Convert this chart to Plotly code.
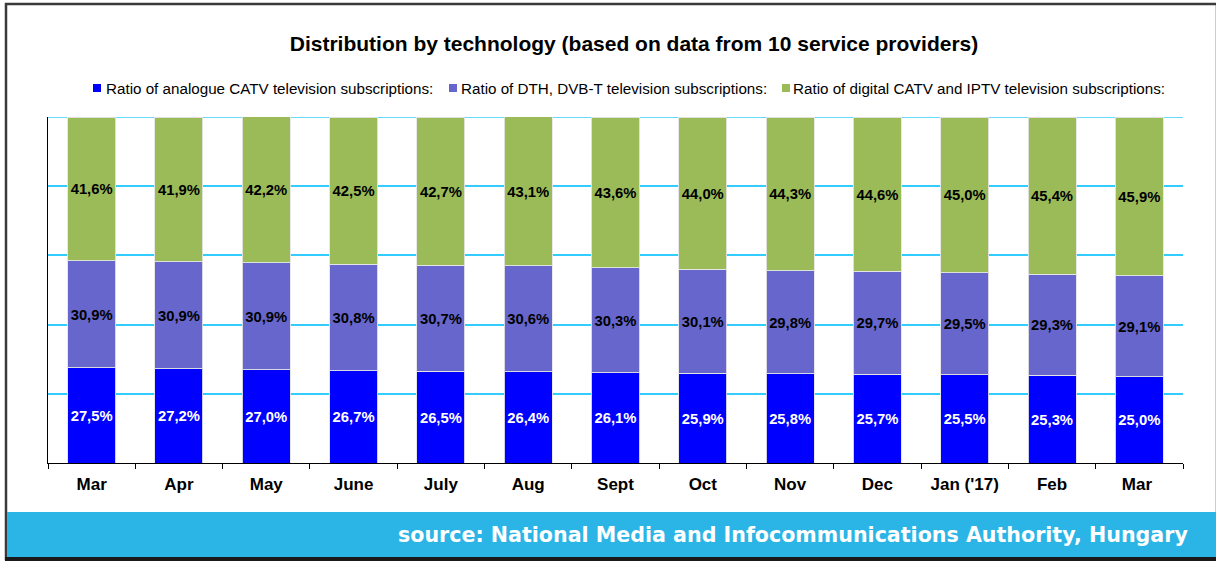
import plotly.graph_objects as go

months = ["Mar", "Apr", "May", "June", "July", "Aug", "Sept", "Oct", "Nov", "Dec", "Jan ('17)", "Feb", "Mar "]
analogue = [27.5, 27.2, 27.0, 26.7, 26.5, 26.4, 26.1, 25.9, 25.8, 25.7, 25.5, 25.3, 25.0]
dth = [30.9, 30.9, 30.9, 30.8, 30.7, 30.6, 30.3, 30.1, 29.8, 29.7, 29.5, 29.3, 29.1]
digital = [41.6, 41.9, 42.2, 42.5, 42.7, 43.1, 43.6, 44.0, 44.3, 44.6, 45.0, 45.4, 45.9]

names = ["Ratio of analogue CATV television subscriptions:",
         "Ratio of DTH, DVB-T television subscriptions:",
         "Ratio of digital CATV and IPTV television subscriptions:"]
colors = ["#0000FF", "#6666CC", "#9BBB59"]
text_colors = ["white", "black", "black"]

W, H = 1216, 561
L, R, T, B = 48, 1183, 117, 463

def px(x):
    return (x - L) / (R - L)

def py(y):
    return (B - y) / (B - T)

def fmt(v):
    return f"{v:.1f}%".replace(".", ",")

fig = go.Figure()
for vals, name, col, tc in zip([analogue, dth, digital], names, colors, text_colors):
    fig.add_trace(go.Bar(
        x=months, y=vals, name=name,
        marker=dict(color=col, line=dict(color="rgba(230,230,230,0.9)", width=1)),
        text=[fmt(v) for v in vals], textposition="inside", insidetextanchor="middle",
        textangle=0,
        textfont=dict(family="Liberation Sans, Arial", size=15, color=tc, weight="bold"),
        hoverinfo="skip", showlegend=False,
    ))

shapes = [
    # outer frame
    dict(type="rect", xref="paper", yref="paper", x0=px(6), x1=px(1217), y0=py(4), y1=py(559),
         line=dict(color="#3a3a3a", width=2.5), fillcolor="rgba(0,0,0,0)", layer="below"),
    # source banner
    dict(type="rect", xref="paper", yref="paper", x0=px(7), x1=px(1216), y0=py(512), y1=py(557),
         line=dict(width=0), fillcolor="#2BB5E6", layer="below"),
    # bottom dark edge
    dict(type="rect", xref="paper", yref="paper", x0=px(5), x1=px(1216), y0=py(557), y1=py(561),
         line=dict(width=0), fillcolor="#1a1a1a", layer="below"),
    # top gridline at 100%
    dict(type="line", xref="paper", yref="y", x0=0, x1=1, y0=100, y1=100,
         line=dict(color="#33CCFF", width=1.5), layer="below"),
]

annotations = []
# manual legend (compact spacing as in the reference)
legend_sq_x = [93, 449, 782]
legend_text_x = [104, 459, 791]
legend_y = 88
for name, col, sx, tx in zip(names, colors, legend_sq_x, legend_text_x):
    shapes.append(dict(type="rect", xref="paper", yref="paper",
                       x0=px(sx), x1=px(sx + 8), y0=py(legend_y - 4), y1=py(legend_y + 4),
                       line=dict(width=0), fillcolor=col))
    annotations.append(dict(text=name, xref="paper", yref="paper", x=px(tx), y=py(legend_y),
                            xanchor="left", yanchor="middle", showarrow=False,
                            font=dict(family="Liberation Sans, Arial", size=15.2, color="black")))

annotations.append(dict(text="source: National Media and Infocommunications Authority, Hungary",
                        xref="paper", yref="paper", x=px(1190), y=py(535),
                        xanchor="right", yanchor="middle", showarrow=False,
                        font=dict(family="DejaVu Sans", size=20.6, color="white", weight="bold")))

fig.update_layout(
    width=W, height=H,
    margin=dict(l=L, r=W - R, t=T, b=H - B),
    paper_bgcolor="white", plot_bgcolor="white",
    barmode="stack", bargap=0.45,
    font=dict(family="Liberation Sans, Arial", color="black"),
    title=dict(text="<b>Distribution by technology (based on data from 10 service providers)</b>",
               x=px(634), xanchor="center", y=1 - 44 / H, yanchor="middle",
               xref="paper", font=dict(size=21, color="black")),
    xaxis=dict(showline=True, linecolor="black", linewidth=1.2, ticks="outside",
               tickson="boundaries", ticklen=5, tickcolor="black", ticklabelstandoff=5,
               tickfont=dict(size=17, color="black", weight="bold"), showgrid=False),
    yaxis=dict(range=[0, 100], dtick=20, showline=True, linecolor="black", linewidth=1.2,
               showticklabels=False, gridcolor="#33CCFF", gridwidth=1.5, zeroline=False,
               ticks=""),
    shapes=shapes,
    annotations=annotations,
    showlegend=False,
)

fig.write_html("out.html", config={"displayModeBar": False},
               post_script="document.body.style.margin='0px';document.body.style.overflow='hidden';")
